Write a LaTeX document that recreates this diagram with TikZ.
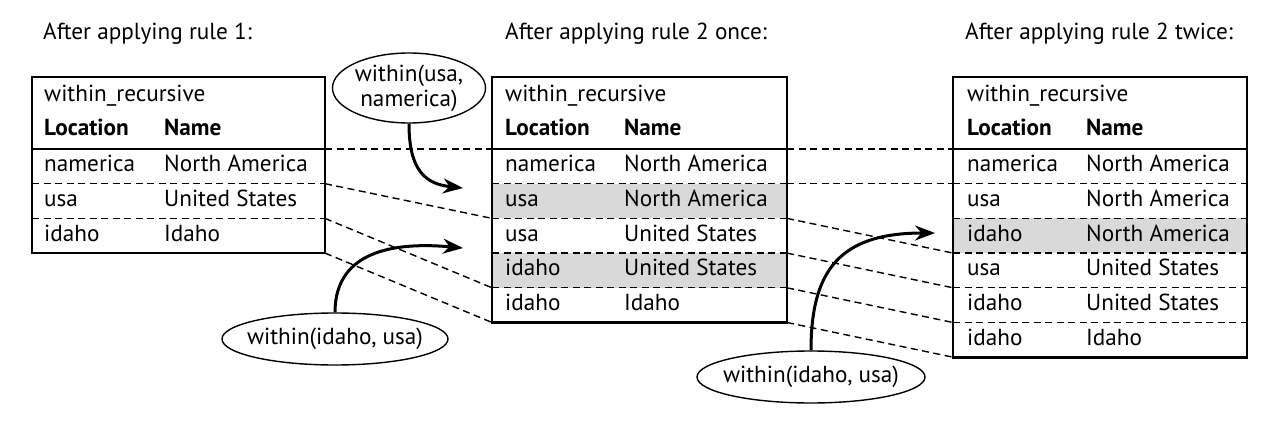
\documentclass[tikz,border=0pt]{standalone}
\usepackage{fontspec}
\setmainfont{PT Sans}
\usetikzlibrary{arrows.meta,shapes.geometric}
\begin{document}
\begin{tikzpicture}[x=1pt,y=-1pt,
  tframe/.style={line width=2.6pt},
  tsep/.style={line width=1.3pt, dash pattern=on 7pt off 4.5pt},
  link/.style={line width=1.4pt, dash pattern=on 7pt off 4.5pt},
  cell/.style={anchor=mid west, inner sep=0pt, yshift=-3pt, font=\fontsize{23.2}{26}\selectfont},
  hcell/.style={anchor=mid west, inner sep=0pt, yshift=-3pt, font=\fontsize{23.2}{26}\selectfont\bfseries},
  title/.style={anchor=mid west, inner sep=0pt, yshift=-2pt, font=\fontsize{23.2}{26}\selectfont},
  shade/.style={fill=black!15, draw=none},
  bubble/.style={ellipse, draw, line width=1.4pt, inner sep=0pt, align=center,
     font=\fontsize{23.2}{25}\selectfont},
  flow/.style={line width=3pt, -{Stealth[length=20pt,width=15pt]}},
]
\useasboundingbox (0,0) rectangle (1274,422);

% titles
\node[title] (t1) at (43,35) {After applying rule 1:};
\node[title] (t2) at (505,35) {After applying rule 2 once:};
\node[title] (t3) at (965,35) {After applying rule 2 twice:};

% ---------- left table ----------
\draw[tsep] (32,183.7) -- (325,183.7);
\draw[tsep] (32,218.4) -- (325,218.4);
\draw[tframe] (32,149) -- (325,149);
\draw[tframe] (32,77) rectangle (325,253.1);
\node[cell]  (Lh)  at (44,96)  {within\_recursive};
\node[hcell] (Lc1) at (44,130) {Location};
\node[hcell] (Lc2) at (164,130) {Name};
\node[cell] (L1a) at (44,166.3) {namerica};
\node[cell] (L1b) at (164,166.3) {North America};
\node[cell] (L2a) at (44,201) {usa};
\node[cell] (L2b) at (164,201) {United States};
\node[cell] (L3a) at (44,235.7) {idaho};
\node[cell] (L3b) at (164,235.7) {Idaho};
\coordinate (Lr0) at (325,149);
\coordinate (Lr1) at (325,183.7);
\coordinate (Lr2) at (325,218.4);
\coordinate (Lr3) at (325,253.1);

% ---------- middle table ----------
\fill[shade] (492,183.7) rectangle (787,218.4);
\fill[shade] (492,253.1) rectangle (787,287.8);
\foreach \yy in {183.7,218.4,253.1,287.8}
  \draw[tsep] (492,\yy) -- (787,\yy);
\draw[tframe] (492,149) -- (787,149);
\draw[tframe] (492,77) rectangle (787,322.5);
\node[cell]  (Mh)  at (505,96)  {within\_recursive};
\node[hcell] (Mc1) at (505,130) {Location};
\node[hcell] (Mc2) at (624,130) {Name};
\node[cell] (M1a) at (505,166.3) {namerica};
\node[cell] (M1b) at (624,166.3) {North America};
\node[cell] (M2a) at (505,201) {usa};
\node[cell] (M2b) at (624,201) {North America};
\node[cell] (M3a) at (505,235.7) {usa};
\node[cell] (M3b) at (624,235.7) {United States};
\node[cell] (M4a) at (505,270.4) {idaho};
\node[cell] (M4b) at (624,270.4) {United States};
\node[cell] (M5a) at (505,305.1) {idaho};
\node[cell] (M5b) at (624,305.1) {Idaho};
\coordinate (Ml0) at (492,149);
\coordinate (Ml2) at (492,218.4);
\coordinate (Ml4) at (492,287.8);
\coordinate (Ml5) at (492,322.5);
\coordinate (Mr0) at (787,149);
\coordinate (Mr1) at (787,183.7);
\coordinate (Mr2) at (787,218.4);
\coordinate (Mr3) at (787,253.1);
\coordinate (Mr4) at (787,287.8);
\coordinate (Mr5) at (787,322.5);

% ---------- right table ----------
\fill[shade] (953,218.4) rectangle (1247,253.1);
\foreach \yy in {183.7,218.4,253.1,287.8,322.5}
  \draw[tsep] (953,\yy) -- (1247,\yy);
\draw[tframe] (953,149) -- (1247,149);
\draw[tframe] (953,77) rectangle (1247,357.2);
\node[cell]  (Rh)  at (967,96)  {within\_recursive};
\node[hcell] (Rc1) at (967,130) {Location};
\node[hcell] (Rc2) at (1086,130) {Name};
\node[cell] (R1a) at (967,166.3) {namerica};
\node[cell] (R1b) at (1086,166.3) {North America};
\node[cell] (R2a) at (967,201) {usa};
\node[cell] (R2b) at (1086,201) {North America};
\node[cell] (R3a) at (967,235.7) {idaho};
\node[cell] (R3b) at (1086,235.7) {North America};
\node[cell] (R4a) at (967,270.4) {usa};
\node[cell] (R4b) at (1086,270.4) {United States};
\node[cell] (R5a) at (967,305.1) {idaho};
\node[cell] (R5b) at (1086,305.1) {United States};
\node[cell] (R6a) at (967,339.8) {idaho};
\node[cell] (R6b) at (1086,339.8) {Idaho};
\coordinate (Rl0) at (953,149);
\coordinate (Rl1) at (953,183.7);
\coordinate (Rl3) at (953,253.1);
\coordinate (Rl4) at (953,287.8);
\coordinate (Rl5) at (953,322.5);
\coordinate (Rl6) at (953,357.2);

% ---------- links ----------
\draw[link] (Lr0) -- (Ml0);
\draw[link] (Lr1) -- (Ml2);
\draw[link] (Lr2) -- (Ml4);
\draw[link] (Lr3) -- (Ml5);
\draw[link] (Mr0) -- (Rl0);
\draw[link] (Mr1) -- (Rl1);
\draw[link] (Mr2) -- (Rl3);
\draw[link] (Mr3) -- (Rl4);
\draw[link] (Mr4) -- (Rl5);
\draw[link] (Mr5) -- (Rl6);

% ---------- bubbles ----------
\node[bubble, minimum width=148pt, minimum height=70pt] (e1) at (409,88) {within(usa,\\namerica)};
\node[bubble, inner xsep=-40pt, minimum width=226pt, minimum height=52pt] (e2) at (335,339) {within(idaho, usa)};
\node[bubble, inner xsep=-40pt, minimum width=228pt, minimum height=52pt] (e3) at (811,377) {within(idaho, usa)};
\coordinate (tip1) at (463,188);
\coordinate (tip2) at (463,248);
\coordinate (tip3) at (935,233);

% ---------- arrows ----------
\draw[flow] (e1.south) .. controls (409,170) and (425,184) .. (tip1);
\draw[flow] (e2.north) .. controls (335,262) and (375,240) .. (tip2);
\draw[flow] (e3.north) .. controls (811,270) and (840,233) .. (tip3);
\end{tikzpicture}
\end{document}
